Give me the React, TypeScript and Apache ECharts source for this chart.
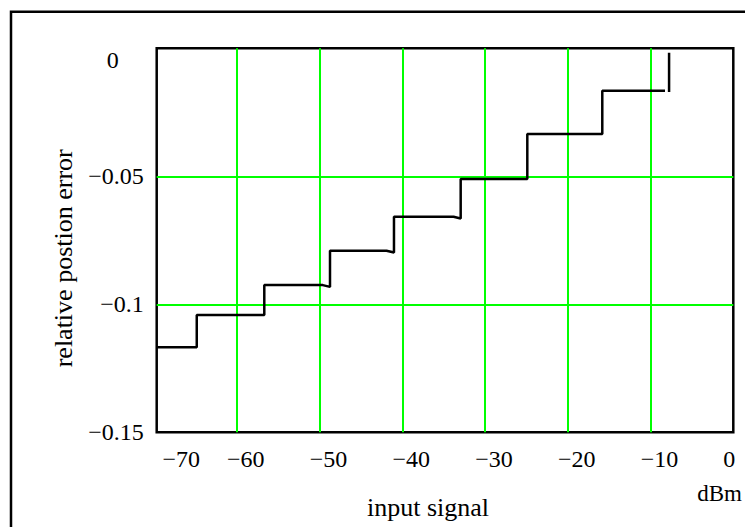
import React, { useEffect, useRef } from "react";
import * as echarts from "echarts";

// Axis ranges
const xMin = -69.67;
const xMax = 0;
const yMin = -0.15;
const yMax = 0;

// Grid / tick values and labels
const xGridValues = [-60, -50, -40, -30, -20, -10];
const xLabelValues = [xMin, -60, -50, -40, -30, -20, -10, 0];
const xLabelTexts = ["−70", "−60", "−50", "−40", "−30", "−20", "−10", "0"];
const yGridValues = [-0.1, -0.05];
const yLabelValues = [-0.15, -0.1, -0.05, 0];
const yLabelTexts = ["−0.15", "−0.1", "−0.05", "0"];

// Series: input signal (dBm) vs relative position error
const inputSignal = [
  -69.67, -64.83, -64.83, -56.67, -56.67, -49.6, -48.73, -48.73, -41.9, -41.0,
  -41.0, -33.8, -32.94, -32.94, -24.89, -24.89, -15.83, -15.83, -8.25, -8.0,
  -7.76, -7.76,
];
const relativeError: (number | string)[] = [
  -0.1168, -0.1168, -0.1042, -0.1042, -0.0925, -0.0925, -0.0932, -0.0791, -0.0791, -0.0798,
  -0.0658, -0.0658, -0.0665, -0.0511, -0.0511, -0.0335, -0.0335, -0.0166, -0.0166, "-",
  -0.0171, -0.0017,
];

const FONT = "'Liberation Serif', 'Times New Roman', serif";

function closestIndex(arr: number[], v: number) {
  let best = 0;
  for (let i = 1; i < arr.length; i++) {
    if (Math.abs(arr[i] - v) < Math.abs(arr[best] - v)) best = i;
  }
  return best;
}

export default function App() {
  const ref = useRef<HTMLDivElement>(null);
  useEffect(() => {
    if (!ref.current) return;
    const chart = echarts.init(ref.current, null, { renderer: "svg" });
    const labelBase = { fontSize: 24, fontFamily: FONT, color: "#000" };
    chart.setOption({
      animation: false,
      backgroundColor: "#fff",
      textStyle: { fontFamily: FONT },
      grid: {
        left: 156.7,
        top: 48.3,
        width: 576.6,
        height: 384,
        show: true,
        borderColor: "#000",
        borderWidth: 2.5,
        backgroundColor: "transparent",
      },
      xAxis: {
        type: "value",
        min: xMin,
        max: xMax,
        name: "input signal",
        nameLocation: "middle",
        nameGap: 62,
        nameTextStyle: {
          fontSize: 26,
          fontFamily: FONT,
          color: "#000",
          padding: [0, 34, 0, 0],
        },
        axisLine: { show: false },
        axisTick: { show: false, customValues: xGridValues },
        splitLine: { show: true, lineStyle: { color: "#00ff00", width: 2 } },
        axisLabel: {
          customValues: xLabelValues,
          margin: 15,
          formatter: (v: number) => {
            const i = closestIndex(xLabelValues, v);
            const key = i === 0 ? "first" : i === xLabelValues.length - 1 ? "last" : "mid";
            return "{" + key + "|" + xLabelTexts[i] + "}";
          },
          rich: {
            first: { ...labelBase, padding: [0, 0, 0, 49] },
            mid: { ...labelBase, padding: [0, 0, 0, 18] },
            last: { ...labelBase, padding: [0, 8, 0, 0] },
          },
        },
      },
      yAxis: {
        type: "value",
        min: yMin,
        max: yMax,
        interval: 0.05,
        name: "relative postion error",
        nameLocation: "middle",
        nameRotate: 90,
        nameGap: 80,
        nameTextStyle: {
          fontSize: 26,
          fontFamily: FONT,
          color: "#000",
          padding: [0, 36, 0, 0],
        },
        axisLine: { show: false },
        axisTick: { show: false, customValues: yGridValues },
        splitLine: { show: true, lineStyle: { color: "#00ff00", width: 2 } },
        axisLabel: {
          customValues: yLabelValues,
          margin: 13,
          formatter: (v: number) => {
            const i = closestIndex(yLabelValues, v);
            const key = i === yLabelValues.length - 1 ? "top" : "n";
            return "{" + key + "|" + yLabelTexts[i] + "}";
          },
          rich: {
            n: { ...labelBase },
            top: { ...labelBase, padding: [23, 25, 0, 0] },
          },
        },
      },
      graphic: [
        {
          type: "rect",
          shape: { x: 11, y: 11.7, width: 900, height: 900 },
          style: { fill: "none", stroke: "#000", lineWidth: 2.5 },
          silent: true,
        },
        {
          type: "text",
          x: 719.5,
          y: 493,
          style: {
            text: "dBm",
            fontSize: 23,
            fontFamily: FONT,
            fill: "#000",
            textAlign: "center",
            textVerticalAlign: "middle",
          },
        },
      ],
      series: [
        {
          type: "line",
          data: inputSignal.map((x, i) => [x, relativeError[i]]),
          showSymbol: false,
          symbol: "none",
          connectNulls: false,
          lineStyle: { color: "#000", width: 2.5 },
          z: 5,
        },
      ],
    });
    return () => chart.dispose();
  }, []);
  return (
    <div
      ref={ref}
      style={{ position: "absolute", left: 0, top: 0, width: 745, height: 527 }}
    />
  );
}
